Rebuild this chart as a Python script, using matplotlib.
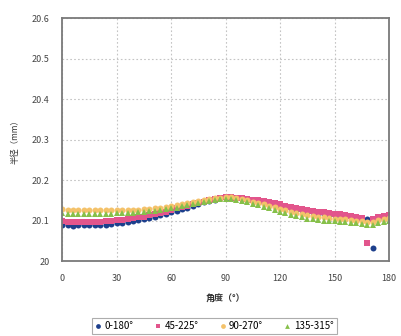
import numpy as np
import matplotlib.pyplot as plt
from matplotlib.ticker import FixedLocator

plt.rcParams['font.family'] = ['Noto Sans CJK SC', 'DejaVu Sans']

# Angle grid (degrees) and radius readings (mm) for each measurement pair
angles = list(range(0, 181, 3))

r_0_180 = [20.088, 20.088, 20.087, 20.088, 20.088, 20.089, 20.089, 20.090, 20.090,
           20.092, 20.094, 20.095, 20.097, 20.099, 20.101, 20.103, 20.106, 20.109,
           20.113, 20.116, 20.120, 20.124, 20.128, 20.132, 20.137, 20.141, 20.145,
           20.149, 20.152, 20.155, 20.157, 20.158, 20.156, 20.154, 20.152, 20.150,
           20.147, 20.144, 20.141, 20.138, 20.136, 20.133, 20.130, 20.127, 20.125,
           20.122, 20.120, 20.118, 20.117, 20.115, 20.114, 20.113, 20.112, 20.110,
           20.108, 20.105, 20.103, 20.032, 20.105, 20.110, 20.112]

r_45_225 = [20.098, 20.097, 20.096, 20.096, 20.096, 20.096, 20.097, 20.097, 20.098,
            20.099, 20.101, 20.102, 20.104, 20.106, 20.108, 20.110, 20.113, 20.116,
            20.119, 20.122, 20.126, 20.130, 20.133, 20.137, 20.140, 20.144, 20.147,
            20.150, 20.153, 20.156, 20.158, 20.158, 20.157, 20.156, 20.154, 20.152,
            20.150, 20.148, 20.145, 20.143, 20.140, 20.137, 20.134, 20.131, 20.128,
            20.126, 20.123, 20.121, 20.120, 20.118, 20.117, 20.116, 20.114, 20.112,
            20.110, 20.106, 20.044, 20.104, 20.108, 20.112, 20.115]

r_90_270 = [20.128, 20.127, 20.127, 20.126, 20.126, 20.125, 20.125, 20.125, 20.125,
            20.125, 20.125, 20.125, 20.126, 20.126, 20.127, 20.128, 20.129, 20.130,
            20.132, 20.134, 20.136, 20.138, 20.140, 20.143, 20.145, 20.148, 20.150,
            20.153, 20.155, 20.157, 20.158, 20.158, 20.156, 20.153, 20.150, 20.147,
            20.143, 20.140, 20.136, 20.133, 20.129, 20.126, 20.122, 20.119, 20.116,
            20.113, 20.111, 20.109, 20.108, 20.106, 20.105, 20.104, 20.103, 20.101,
            20.100, 20.098, 20.096, 20.097, 20.101, 20.104, 20.107]

r_135_315 = [20.118, 20.117, 20.117, 20.116, 20.116, 20.116, 20.116, 20.117, 20.117,
             20.117, 20.118, 20.118, 20.119, 20.119, 20.120, 20.121, 20.123, 20.124,
             20.126, 20.128, 20.130, 20.132, 20.135, 20.138, 20.140, 20.143, 20.146,
             20.149, 20.151, 20.153, 20.154, 20.154, 20.152, 20.149, 20.146, 20.142,
             20.138, 20.134, 20.130, 20.126, 20.122, 20.118, 20.114, 20.111, 20.108,
             20.105, 20.103, 20.101, 20.100, 20.099, 20.098, 20.097, 20.096, 20.094,
             20.093, 20.091, 20.090, 20.090, 20.094, 20.097, 20.100]

series = [
    ("0-180°", r_0_180, "#1d3f8c", "o"),
    ("45-225°", r_45_225, "#e2558c", "s"),
    ("90-270°", r_90_270, "#f4c26a", "o"),
    ("135-315°", r_135_315, "#86c04a", "^"),
]

fig = plt.figure(figsize=(4.01, 3.36), dpi=100)
ax = fig.add_axes([0.155, 0.223, 0.815, 0.723])

for label, vals, color, marker in series:
    ax.plot(angles, vals, linestyle="none", marker=marker, markersize=4.3,
            color=color, markeredgewidth=0, label=label)

ax.set_xlim(0, 180)
ax.set_ylim(20, 20.6)
ax.xaxis.set_major_locator(FixedLocator([0, 30, 60, 90, 120, 150, 180]))
ax.set_yticks([20, 20.1, 20.2, 20.3, 20.4, 20.5, 20.6])
ax.set_yticklabels(["20", "20.1", "20.2", "20.3", "20.4", "20.5", "20.6"])
ax.tick_params(length=0, labelsize=6.5, colors="#444444", pad=9)

ax.grid(True, linestyle=(0, (1.5, 2)), color="#c4c4c4", linewidth=0.8)
for sp in ax.spines.values():
    sp.set_color("#7a7a7a")
    sp.set_linewidth(1.3)

ax.set_xlabel("角度（°）", fontsize=6.5, color="#333333", fontweight="bold", labelpad=9)
ax.set_ylabel("半径（mm）", fontsize=6, color="#333333", labelpad=9)

leg = fig.legend(loc="center", bbox_to_anchor=(0.535, 0.03), ncol=4, fontsize=7,
                 frameon=True, fancybox=False, edgecolor="#999999", markerscale=0.8,
                 handlelength=0.6, handletextpad=0.35, columnspacing=2.2,
                 borderpad=0.35)
leg.get_frame().set_linewidth(0.8)

fig.savefig("out.png", dpi=100)
